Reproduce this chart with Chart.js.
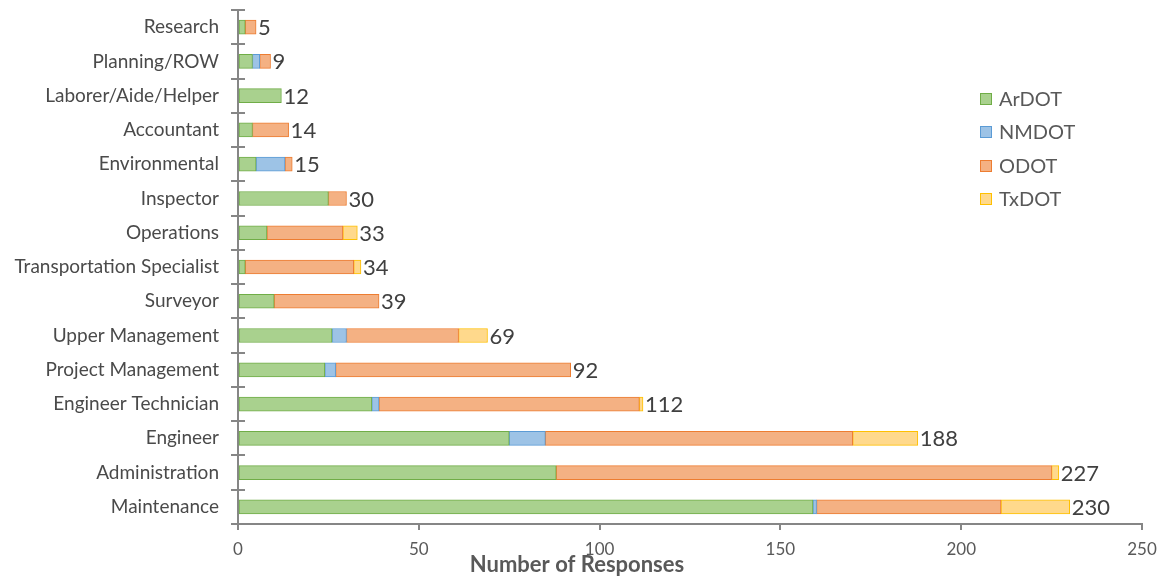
<!DOCTYPE html>
<html lang="en">
  <head>
    <meta charset="utf-8" />
    <title>Number of Responses by Position</title>
    <style>
      * { margin: 0; padding: 0; }
      body { background: #fff; width: 1166px; height: 580px; overflow: hidden; position: relative; font-family: Lato, sans-serif; }
      .chartBox { position: absolute; left: 0; top: 0; width: 1166px; height: 580px; }
      .legend { position: absolute; left: 980px; top: 84px; }
      .legend div { height: 33.3px; line-height: 28px; font-size: 20px; color: #595959; }
      .legend span { display: inline-block; width: 10px; height: 10px; margin-right: 7px; vertical-align: 1px; border: 1px solid; }
    </style>
  </head>
  <body>
    <div class="chartBox"><canvas id="myChart"></canvas></div>
    <div class="legend" id="legend"></div>

    <script src="https://cdn.jsdelivr.net/npm/chart.js@4.4.0/dist/chart.umd.min.js"></script>
    <script>
      // data block
      const positions = ["Research", "Planning/ROW", "Laborer/Aide/Helper", "Accountant", "Environmental",
        "Inspector", "Operations", "Transportation Specialist", "Surveyor", "Upper Management",
        "Project Management", "Engineer Technician", "Engineer", "Administration", "Maintenance"];
      const ardot = [2, 4, 12, 4, 5, 25, 8, 2, 10, 26, 24, 37, 75, 88, 159];
      const nmdot = [0, 2, 0, 0, 8, 0, 0, 0, 0, 4, 3, 2, 10, 0, 1];
      const odot = [3, 3, 0, 10, 2, 5, 21, 30, 29, 31, 65, 72, 85, 137, 51];
      const txdot = [0, 0, 0, 0, 0, 0, 4, 2, 0, 8, 0, 1, 18, 2, 19];
      const xTicks = [0, 50, 100, 150, 200, 250];

      const seriesNames = ["ArDOT", "NMDOT", "ODOT", "TxDOT"];
      const fills = ["#A9D18E", "#9DC3E6", "#F4B183", "#FFD98C"];
      const borders = ["#70AD47", "#5B9BD5", "#ED7D31", "#FFC000"];
      const series = [ardot, nmdot, odot, txdot];

      const totals = positions.map((_, i) => series.reduce((s, arr) => s + arr[i], 0));

      const data = {
        labels: positions,
        datasets: series.map((arr, k) => ({
          label: seriesNames[k],
          data: arr,
          backgroundColor: fills[k],
          borderColor: borders[k],
          borderWidth: 1,
          borderSkipped: false,
          barThickness: 14,
        })),
      };

      // legend (html)
      document.getElementById("legend").innerHTML = seriesNames
        .map((n, k) => `<div><span style="background:${fills[k]};border-color:${borders[k]}"></span>${n}</div>`)
        .join("");

      const totalLabels = {
        id: "totalLabels",
        afterDatasetsDraw(chart) {
          const { ctx, scales } = chart;
          ctx.save();
          ctx.font = "22px Lato, sans-serif";
          ctx.fillStyle = "#404040";
          ctx.textAlign = "left";
          ctx.textBaseline = "middle";
          totals.forEach((t, i) => {
            const x = scales.x.getPixelForValue(t);
            const y = scales.y.getPixelForValue(i);
            ctx.fillText(String(t), x + 2, y + 1);
          });
          ctx.restore();
        },
      };

      // inner half of the cross tick marks on the category axis + axis title
      const crossTicks = {
        id: "crossTicks",
        afterDraw(chart) {
          const { ctx, scales, chartArea } = chart;
          const y = scales.y;
          const step = (y.bottom - y.top) / positions.length;
          ctx.save();
          ctx.strokeStyle = "#868686";
          ctx.lineWidth = 2;
          ctx.beginPath();
          for (let i = 0; i <= positions.length; i++) {
            const py = Math.round(y.top + i * step);
            ctx.moveTo(chartArea.left, py);
            ctx.lineTo(chartArea.left + 7, py);
          }
          ctx.stroke();

          ctx.font = "bold 22px Lato, sans-serif";
          ctx.fillStyle = "#595959";
          ctx.textAlign = "center";
          ctx.textBaseline = "middle";
          ctx.fillText("Number of Responses", 577, 565);
          ctx.restore();
        },
      };

      // config block
      const config = {
        type: "bar",
        data: data,
        options: {
          indexAxis: "y",
          responsive: true,
          maintainAspectRatio: false,
          animation: false,
          layout: { padding: { top: 10, right: 24, left: 0, bottom: 0 } },
          scales: {
            x: {
              stacked: true,
              min: 0,
              max: 250,
              afterBuildTicks(scale) {
                scale.ticks = xTicks.map((v) => ({ value: v }));
              },
              afterFit(scale) {
                scale.height = 56;
                scale.paddingLeft = 0;
                scale.paddingRight = 0;
              },
              grid: {
                drawOnChartArea: false,
                tickLength: 6,
                color: "#868686",
                lineWidth: 2,
              },
              border: { color: "#868686", width: 2 },
              ticks: {
                color: "#595959",
                font: { family: "Lato, sans-serif", size: 17 },
                padding: 9,
              },
            },
            y: {
              stacked: true,
              afterFit(scale) {
                scale.width = 238;
                scale.paddingTop = 0;
                scale.paddingBottom = 0;
              },
              grid: {
                offset: true,
                drawOnChartArea: false,
                tickLength: 7,
                color: "#868686",
                lineWidth: 2,
              },
              border: { color: "#868686", width: 2 },
              ticks: {
                color: "#4a4a4a",
                font: { family: "Lato, sans-serif", size: 19 },
                padding: 12,
              },
            },
          },
          plugins: {
            legend: { display: false },
            tooltip: { enabled: false },
          },
        },
        plugins: [totalLabels, crossTicks],
      };

      // init render block
      const myChart = new Chart(document.getElementById("myChart"), config);
    </script>
  </body>
</html>
